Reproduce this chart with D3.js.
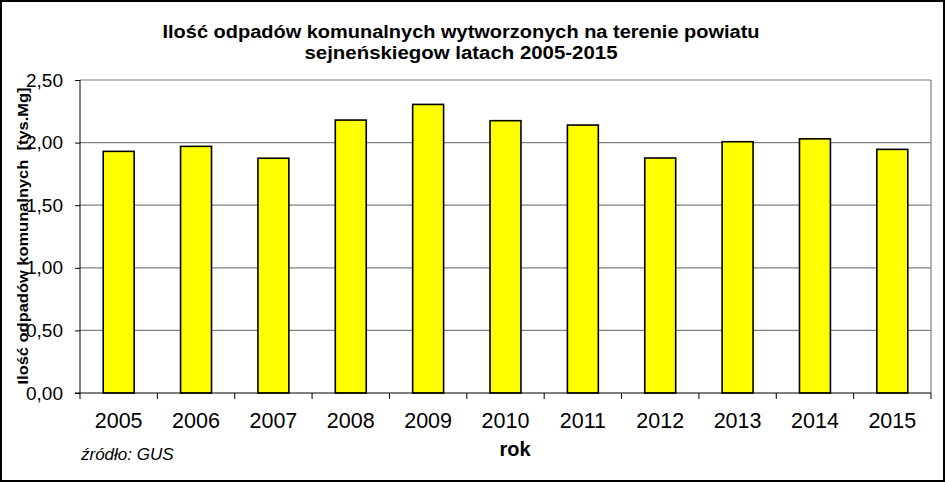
<!DOCTYPE html>
<html><head><meta charset="utf-8">
<script src="https://cdn.jsdelivr.net/npm/d3@7/dist/d3.min.js"></script>
<style>body{margin:0;background:#fff}svg{display:block}</style>
</head><body><svg id="c" width="945" height="482"></svg>
<script>
const years = ["2005","2006","2007","2008","2009","2010","2011","2012","2013","2014","2015"];
const values = [1.93,1.97,1.875,2.18,2.305,2.175,2.14,1.877,2.007,2.03,1.946];
const yTicks = [0,0.5,1,1.5,2,2.5];
const titleLines = ["Ilość odpadów komunalnych wytworzonych na terenie powiatu","sejneńskiegow latach 2005-2015"];
const titleWidths = [597,313];

const FONT="Liberation Sans, Arial, sans-serif";
const svg = d3.select("#c");
const W=945,H=482;
const m={left:80,right:931,top:80,bottom:393};
svg.append("rect").attr("x",1).attr("y",1).attr("width",W-2).attr("height",H-2).attr("fill","#fff").attr("stroke","#000").attr("stroke-width",2);

const x=d3.scaleBand().domain(years).range([m.left,m.right]).paddingInner(0.6).paddingOuter(0.3);
const y=d3.scaleLinear().domain([0,2.5]).range([m.bottom,m.top]);
const fmt=d=>d3.format(".2f")(d).replace(".",",");

// gridlines
svg.append("g").selectAll("line").data(yTicks.filter(d=>d>0)).join("line")
 .attr("x1",m.left).attr("x2",m.right).attr("y1",d=>y(d)).attr("y2",d=>y(d))
 .attr("stroke","#7f7f7f").attr("stroke-width",1.2);
svg.append("line").attr("x1",m.right).attr("x2",m.right).attr("y1",m.top).attr("y2",m.bottom).attr("stroke","#7f7f7f").attr("stroke-width",1.2);

// bars
svg.append("g").selectAll("rect").data(years).join("rect")
 .attr("x",d=>x(d)).attr("width",x.bandwidth())
 .attr("y",(d,i)=>y(values[i])).attr("height",(d,i)=>y(0)-y(values[i]))
 .attr("fill","#ffff00").attr("stroke","#000").attr("stroke-width",1.6);

// y axis
const ya=d3.axisLeft(y).tickValues(yTicks).tickFormat(fmt).tickSize(5).tickPadding(12);
const gy=svg.append("g").attr("transform",`translate(${m.left},0)`).call(ya);
gy.select(".domain").attr("stroke","#000").attr("d",`M0,${m.top}V${m.bottom}`);
gy.selectAll(".tick line").attr("stroke","#000");
gy.selectAll("text").attr("font-family",FONT).attr("font-size",19).attr("fill","#000");

// x axis
const boundaries=d3.range(years.length+1).map(i=>m.left+i*(m.right-m.left)/years.length);
svg.append("line").attr("x1",m.left-5).attr("x2",m.right).attr("y1",m.bottom).attr("y2",m.bottom).attr("stroke","#000");
svg.append("g").selectAll("line").data(boundaries).join("line")
 .attr("x1",d=>d).attr("x2",d=>d).attr("y1",m.bottom).attr("y2",m.bottom+6).attr("stroke","#000");
svg.append("g").selectAll("text").data(years).join("text")
 .attr("x",d=>x(d)+x.bandwidth()/2).attr("y",m.bottom+35).attr("text-anchor","middle")
 .attr("font-family",FONT).attr("font-size",21.5).text(d=>d);

// titles
svg.append("g").selectAll("text").data(titleLines).join("text")
 .attr("x",461).attr("y",(d,i)=>38+i*21).attr("text-anchor","middle")
 .attr("font-family",FONT).attr("font-weight","bold").attr("font-size",18)
 .attr("textLength",(d,i)=>titleWidths[i]).attr("lengthAdjust","spacingAndGlyphs").text(d=>d);

svg.append("text").attr("x",515).attr("y",456).attr("text-anchor","middle")
 .attr("font-family",FONT).attr("font-weight","bold").attr("font-size",20).text("rok");

svg.append("text").attr("transform",`translate(28,236) rotate(-90)`).attr("text-anchor","middle")
 .attr("font-family",FONT).attr("font-weight","bold").attr("font-size",14.5).attr("xml:space","preserve")
 .attr("textLength",297).attr("lengthAdjust","spacingAndGlyphs").text("Ilość odpadów komunalnych  [tys.Mg]");

svg.append("text").attr("x",81).attr("y",460)
 .attr("font-family",FONT).attr("font-style","italic").attr("font-size",17).text("źródło: GUS");
</script></body></html>
